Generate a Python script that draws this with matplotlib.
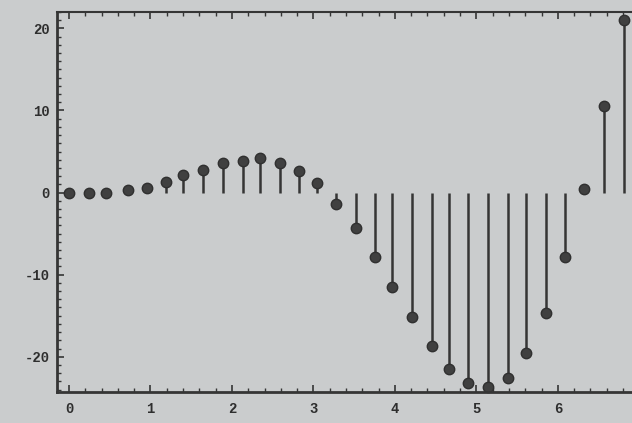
import matplotlib
matplotlib.use("Agg")
import matplotlib.pyplot as plt
from matplotlib.ticker import MultipleLocator

plt.rcParams["axes.unicode_minus"] = False

# sample positions and values
t = [0.00, 0.24, 0.46, 0.72, 0.96, 1.19, 1.40, 1.65, 1.89, 2.13,
     2.34, 2.59, 2.82, 3.04, 3.28, 3.52, 3.75, 3.97, 4.21, 4.45,
     4.67, 4.90, 5.14, 5.39, 5.61, 5.85, 6.09, 6.32, 6.57, 6.81]
y = [0.0, 0.0, -0.1, 0.3, 0.6, 1.3, 2.1, 2.7, 3.6, 3.85,
     4.2, 3.55, 2.6, 1.2, -1.4, -4.35, -7.8, -11.5, -15.2, -18.7,
     -21.5, -23.25, -23.7, -22.6, -19.5, -14.7, -7.8, 0.45, 10.6, 21.0]
xticks = [0, 1, 2, 3, 4, 5, 6]
yticks = [-20, -10, 0, 10, 20]

bg = "#cacccd"
ink = "#353535"

fig = plt.figure(figsize=(6.32, 4.23), dpi=100, facecolor=bg)
ax = fig.add_axes([57 / 632, 31 / 423, 1.0 - 57 / 632, (392 - 12) / 423])
ax.set_facecolor(bg)

markerline, stemlines, baseline = ax.stem(t, y, basefmt=" ")
plt.setp(stemlines, color=ink, linewidth=1.8)
plt.setp(markerline, color="#404040", markersize=7.5, markeredgecolor="#303030",
         clip_on=False)

ax.set_xlim(-0.147, 6.91)
ax.set_ylim(-24.3, 22.0)
ax.set_xticks(xticks)
ax.set_yticks(yticks)
ax.xaxis.set_minor_locator(MultipleLocator(0.2))
ax.yaxis.set_minor_locator(MultipleLocator(1))
ax.tick_params(which="both", direction="in", top=True, right=False, color=ink)
ax.tick_params(which="major", length=5, width=1.2, labelsize=10, labelcolor="#2e2e2e")
ax.tick_params(axis="y", which="major", pad=5)
ax.tick_params(axis="x", which="major", pad=7)
ax.tick_params(which="minor", length=3, width=1)
for lbl in ax.get_xticklabels() + ax.get_yticklabels():
    lbl.set_family("Liberation Mono")
    lbl.set_fontweight("bold")
for s in ax.spines.values():
    s.set_color(ink)
    s.set_linewidth(2)
ax.spines["top"].set_linewidth(1.5)
ax.spines["right"].set_visible(False)

fig.savefig("out.png", dpi=100, facecolor=bg)
